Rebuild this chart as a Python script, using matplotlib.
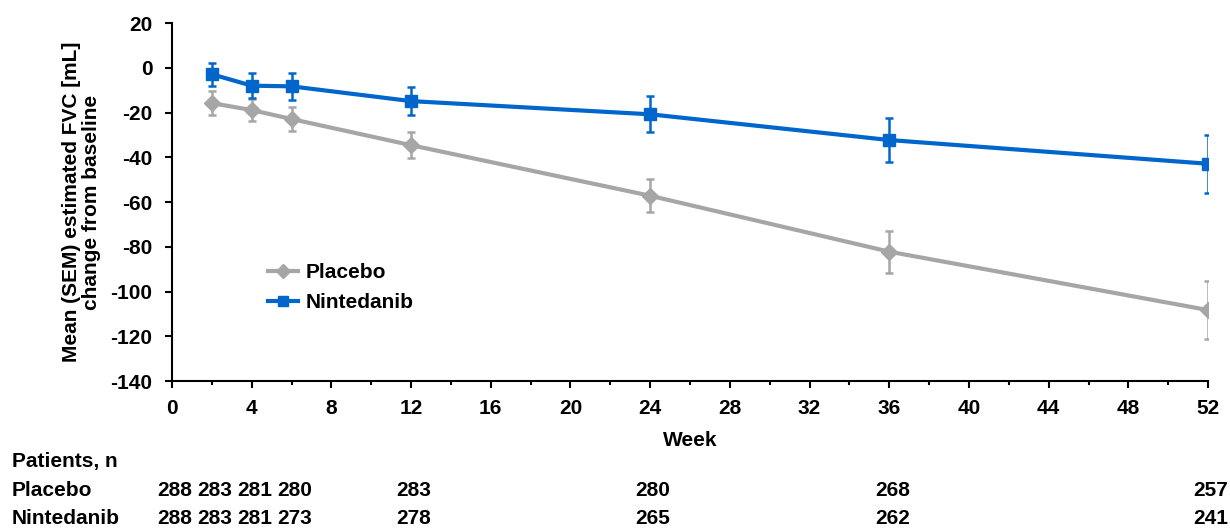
import numpy as np
import matplotlib.pyplot as plt
from matplotlib.ticker import MultipleLocator

plt.rcParams['font.family'] = ['Liberation Sans', 'DejaVu Sans']
plt.rcParams['font.weight'] = 'bold'
plt.rcParams['axes.unicode_minus'] = False

# FVC change from baseline (mL), mean and SEM per visit
weeks = [2, 4, 6, 12, 24, 36, 52]
placebo_mean = [-15.8, -18.9, -22.9, -34.6, -57.2, -82.2, -108.3]
placebo_sem = [5.2, 5.0, 5.4, 5.9, 7.4, 9.4, 12.8]
ninte_mean = [-2.9, -8.0, -8.3, -14.9, -20.8, -32.3, -42.9]
ninte_sem = [5.2, 5.7, 6.0, 6.2, 8.0, 9.8, 12.9]

# patients at risk
n_weeks = [0, 2, 4, 6, 12, 24, 36, 52]
n_placebo = [288, 283, 281, 280, 283, 280, 268, 257]
n_ninte = [288, 283, 281, 273, 278, 265, 262, 241]

grey = '#A6A6A6'
blue = '#0066CC'
fs = 15

fig = plt.figure(figsize=(12.3, 5.28), dpi=100)
ax = fig.add_axes([0.1398, 0.2784, 0.8424, 0.678])

ax.errorbar(weeks, placebo_mean, yerr=placebo_sem, color=grey, lw=3,
            marker='D', ms=8, capsize=3, elinewidth=1.8, capthick=1.8,
            label='Placebo', zorder=2)
ax.errorbar(weeks, ninte_mean, yerr=ninte_sem, color=blue, lw=3,
            marker='s', ms=9, capsize=3, elinewidth=1.8, capthick=1.8,
            label='Nintedanib', zorder=3)

ax.set_xlim(0, 52)
ax.set_ylim(-140, 20)
ax.xaxis.set_major_locator(MultipleLocator(4))
ax.xaxis.set_minor_locator(MultipleLocator(2))
ax.yaxis.set_major_locator(MultipleLocator(20))

for side in ['top', 'right']:
    ax.spines[side].set_visible(False)
for side in ['left', 'bottom']:
    ax.spines[side].set_linewidth(1.5)
ax.tick_params(axis='both', which='major', direction='out', length=5,
               width=1.5, labelsize=fs)
ax.tick_params(axis='y', pad=9)
ax.tick_params(axis='x', pad=8)
ax.tick_params(axis='x', which='minor', direction='out', length=3, width=1.5)
for lbl in ax.get_xticklabels() + ax.get_yticklabels():
    lbl.set_fontweight('bold')

ax.set_xlabel('Week', fontsize=fs, fontweight='bold', labelpad=9)
ax.set_ylabel('Mean (SEM) estimated FVC [mL]\nchange from baseline',
              fontsize=fs, fontweight='bold', labelpad=7, linespacing=1.05)

handles, labels = ax.get_legend_handles_labels()
handles = [h[0] for h in handles]
ax.legend(handles, labels, loc='center left', bbox_to_anchor=(0.0927, 0.261),
          frameon=False, handlelength=1.45, handletextpad=0.35,
          labelspacing=0.55, borderpad=0, borderaxespad=0,
          prop={'weight': 'bold', 'size': fs}, markerscale=0.85)

# numbers at risk below the axis
fig.text(12 / 1230, 1 - 462 / 528, 'Patients, n', fontsize=fs,
         fontweight='bold', va='center')
rows = [('Placebo', n_placebo, 490), ('Nintedanib', n_ninte, 518)]
for name, counts, ypix in rows:
    yfig = 1 - ypix / 528
    fig.text(12 / 1230, yfig, name, fontsize=fs, fontweight='bold',
             va='center')
    for wk, n in zip(n_weeks, counts):
        xd = ax.transData.transform((wk, 0))[0]
        xf = fig.transFigure.inverted().transform((xd + 3, 0))[0]
        fig.text(xf, yfig, str(n), fontsize=fs, fontweight='bold',
                 ha='center', va='center')

fig.savefig('out.png', dpi=100)
